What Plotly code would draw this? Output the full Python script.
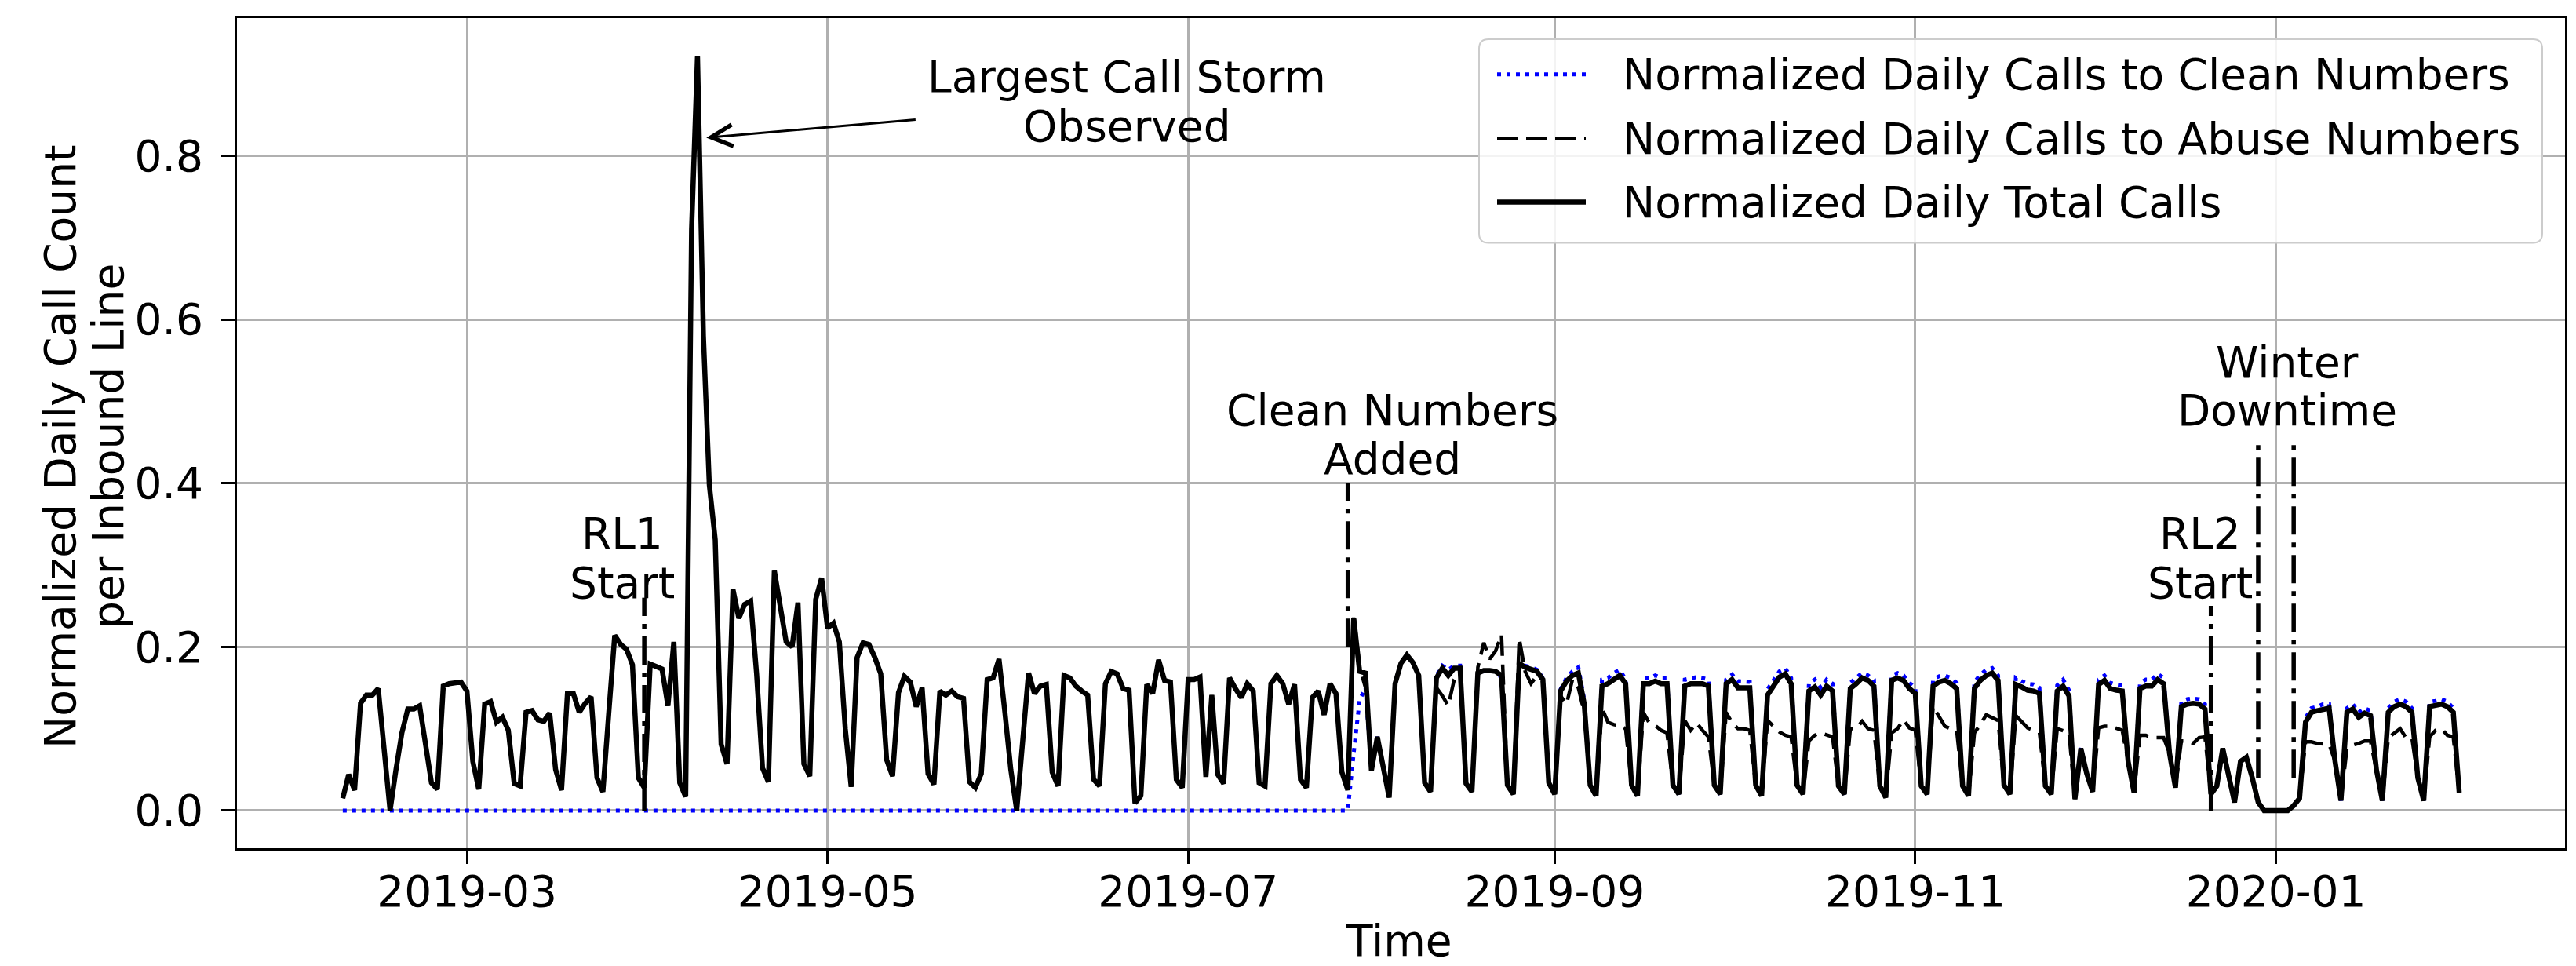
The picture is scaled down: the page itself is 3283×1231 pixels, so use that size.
import pandas as pd
import plotly.graph_objects as go

# ---------------- data ----------------
start_date = "2019-02-08"

total_calls = [
    0.015, 0.044, 0.025, 0.131, 0.141, 0.141, 0.149,
    0.075, 0.0, 0.05, 0.095, 0.124, 0.124, 0.128,
    0.08, 0.034, 0.026, 0.152, 0.155, 0.156, 0.157,
    0.146, 0.06, 0.026, 0.13, 0.133, 0.108, 0.114,
    0.098, 0.033, 0.03, 0.12, 0.122, 0.111, 0.109,
    0.119, 0.05, 0.025, 0.143, 0.143, 0.12, 0.131,
    0.139, 0.04, 0.023, 0.12, 0.214, 0.203, 0.197,
    0.178, 0.04, 0.028, 0.179, 0.176, 0.173, 0.128,
    0.206, 0.034, 0.017, 0.71, 0.922, 0.58, 0.398,
    0.331, 0.081, 0.057, 0.27, 0.235, 0.252, 0.256,
    0.167, 0.052, 0.035, 0.293, 0.252, 0.206, 0.2,
    0.254, 0.057, 0.042, 0.258, 0.284, 0.223, 0.229,
    0.206, 0.1, 0.029, 0.187, 0.205, 0.203, 0.187,
    0.167, 0.062, 0.042, 0.144, 0.164, 0.157, 0.127,
    0.15, 0.045, 0.032, 0.146, 0.141, 0.146, 0.139,
    0.137, 0.035, 0.028, 0.045, 0.16, 0.162, 0.185,
    0.12, 0.05, 0.0, 0.084, 0.168, 0.143, 0.152,
    0.154, 0.047, 0.03, 0.165, 0.162, 0.152, 0.146,
    0.141, 0.038, 0.03, 0.155, 0.17, 0.167, 0.149,
    0.147, 0.009, 0.018, 0.154, 0.143, 0.184, 0.159,
    0.157, 0.038, 0.028, 0.16, 0.16, 0.163, 0.041,
    0.141, 0.044, 0.033, 0.162, 0.149, 0.138, 0.155,
    0.146, 0.034, 0.03, 0.155, 0.165, 0.155, 0.13,
    0.154, 0.038, 0.028, 0.138, 0.146, 0.117, 0.155,
    0.143, 0.047, 0.025, 0.235, 0.17, 0.168, 0.049,
    0.09, 0.05, 0.016, 0.155, 0.18, 0.19, 0.181,
    0.165, 0.034, 0.023, 0.162, 0.174, 0.165, 0.174,
    0.174, 0.033, 0.023, 0.168, 0.171, 0.171, 0.17,
    0.165, 0.031, 0.02, 0.18, 0.175, 0.172, 0.17,
    0.16, 0.034, 0.02, 0.146, 0.158, 0.165, 0.168,
    0.13, 0.031, 0.018, 0.152, 0.155, 0.16, 0.165,
    0.155, 0.031, 0.018, 0.155, 0.155, 0.158, 0.155,
    0.155, 0.031, 0.02, 0.152, 0.155, 0.155, 0.155,
    0.152, 0.031, 0.02, 0.155, 0.16, 0.15, 0.15,
    0.15, 0.031, 0.018, 0.141, 0.152, 0.163, 0.167,
    0.155, 0.031, 0.02, 0.146, 0.151, 0.141, 0.152,
    0.146, 0.03, 0.02, 0.149, 0.155, 0.162, 0.159,
    0.152, 0.03, 0.016, 0.159, 0.162, 0.159, 0.149,
    0.143, 0.03, 0.02, 0.152, 0.157, 0.159, 0.155,
    0.149, 0.03, 0.018, 0.149, 0.159, 0.165, 0.168,
    0.159, 0.031, 0.02, 0.154, 0.151, 0.147, 0.146,
    0.143, 0.03, 0.02, 0.146, 0.152, 0.14, 0.014,
    0.076, 0.045, 0.023, 0.154, 0.159, 0.149, 0.147,
    0.146, 0.06, 0.022, 0.149, 0.152, 0.152, 0.16,
    0.155, 0.07, 0.028, 0.127, 0.13, 0.131, 0.13,
    0.124, 0.02, 0.03, 0.076, 0.04, 0.01, 0.06,
    0.065, 0.04, 0.01, 0.0, 0.0, 0.0, 0.0,
    0.0, 0.006, 0.015, 0.108, 0.12, 0.122, 0.124,
    0.125, 0.06, 0.012, 0.12, 0.124, 0.114, 0.119,
    0.116, 0.05, 0.012, 0.12, 0.127, 0.13, 0.127,
    0.12, 0.04, 0.012, 0.127, 0.128, 0.13, 0.127,
    0.12, 0.022,
]

abuse_calls = [
    0.015, 0.044, 0.025, 0.131, 0.141, 0.141, 0.149,
    0.075, 0.0, 0.05, 0.095, 0.124, 0.124, 0.128,
    0.08, 0.034, 0.026, 0.152, 0.155, 0.156, 0.157,
    0.146, 0.06, 0.026, 0.13, 0.133, 0.108, 0.114,
    0.098, 0.033, 0.03, 0.12, 0.122, 0.111, 0.109,
    0.119, 0.05, 0.025, 0.143, 0.143, 0.12, 0.131,
    0.139, 0.04, 0.023, 0.12, 0.214, 0.203, 0.197,
    0.178, 0.04, 0.028, 0.179, 0.176, 0.173, 0.128,
    0.206, 0.034, 0.017, 0.71, 0.922, 0.58, 0.398,
    0.331, 0.081, 0.057, 0.27, 0.235, 0.252, 0.256,
    0.167, 0.052, 0.035, 0.293, 0.252, 0.206, 0.2,
    0.254, 0.057, 0.042, 0.258, 0.284, 0.223, 0.229,
    0.206, 0.1, 0.029, 0.187, 0.205, 0.203, 0.187,
    0.167, 0.062, 0.042, 0.144, 0.164, 0.157, 0.127,
    0.15, 0.045, 0.032, 0.146, 0.141, 0.146, 0.139,
    0.137, 0.035, 0.028, 0.045, 0.16, 0.162, 0.185,
    0.12, 0.05, 0.0, 0.084, 0.168, 0.143, 0.152,
    0.154, 0.047, 0.03, 0.165, 0.162, 0.152, 0.146,
    0.141, 0.038, 0.03, 0.155, 0.17, 0.167, 0.149,
    0.147, 0.009, 0.018, 0.154, 0.143, 0.184, 0.159,
    0.157, 0.038, 0.028, 0.16, 0.16, 0.163, 0.041,
    0.141, 0.044, 0.033, 0.162, 0.149, 0.138, 0.155,
    0.146, 0.034, 0.03, 0.155, 0.165, 0.155, 0.13,
    0.154, 0.038, 0.028, 0.138, 0.146, 0.117, 0.155,
    0.143, 0.047, 0.025, 0.24, 0.175, 0.15, 0.049,
    0.09, 0.05, 0.016, 0.155, 0.18, 0.19, 0.181,
    0.165, 0.034, 0.023, 0.15, 0.14, 0.128, 0.16,
    0.17, 0.033, 0.023, 0.175, 0.205, 0.185, 0.195,
    0.215, 0.031, 0.02, 0.21, 0.17, 0.155, 0.165,
    0.16, 0.034, 0.02, 0.14, 0.13, 0.16, 0.15,
    0.12, 0.031, 0.018, 0.125, 0.108, 0.105, 0.104,
    0.1, 0.031, 0.018, 0.12, 0.107, 0.104, 0.098,
    0.095, 0.031, 0.02, 0.11, 0.098, 0.107, 0.098,
    0.09, 0.031, 0.02, 0.12, 0.107, 0.1, 0.1,
    0.098, 0.031, 0.018, 0.11, 0.103, 0.096, 0.092,
    0.09, 0.031, 0.02, 0.085, 0.092, 0.095, 0.092,
    0.09, 0.03, 0.02, 0.1, 0.1, 0.109, 0.1,
    0.098, 0.03, 0.016, 0.095, 0.1, 0.111, 0.101,
    0.098, 0.03, 0.02, 0.127, 0.114, 0.103, 0.1,
    0.098, 0.03, 0.018, 0.095, 0.105, 0.117, 0.114,
    0.11, 0.031, 0.02, 0.116, 0.108, 0.101, 0.098,
    0.095, 0.03, 0.02, 0.1, 0.098, 0.095, 0.014,
    0.07, 0.045, 0.023, 0.101, 0.103, 0.103, 0.1,
    0.098, 0.06, 0.022, 0.092, 0.092, 0.089, 0.089,
    0.089, 0.07, 0.028, 0.085, 0.085, 0.082, 0.089,
    0.09, 0.02, 0.03, 0.076, 0.04, 0.01, 0.06,
    0.065, 0.04, 0.01, 0.0, 0.0, 0.0, 0.0,
    0.0, 0.006, 0.015, 0.084, 0.084, 0.082, 0.081,
    0.081, 0.06, 0.012, 0.076, 0.08, 0.082, 0.085,
    0.085, 0.05, 0.012, 0.089, 0.095, 0.1, 0.089,
    0.089, 0.04, 0.012, 0.09, 0.098, 0.1, 0.092,
    0.09, 0.022,
]

clean_before_added = [0.0] * 171   # no clean numbers before 2019-07-28
clean_after_added = [
    0.07, 0.135, 0.15, 0.049,
    0.09, 0.05, 0.016, 0.155, 0.18, 0.19, 0.181,
    0.165, 0.034, 0.023, 0.165, 0.177, 0.172, 0.177,
    0.177, 0.033, 0.023, 0.168, 0.17, 0.172, 0.17,
    0.162, 0.031, 0.02, 0.175, 0.177, 0.175, 0.172,
    0.162, 0.034, 0.02, 0.148, 0.162, 0.17, 0.175,
    0.135, 0.031, 0.018, 0.16, 0.162, 0.168, 0.172,
    0.16, 0.031, 0.018, 0.162, 0.162, 0.165, 0.162,
    0.162, 0.031, 0.02, 0.16, 0.162, 0.163, 0.162,
    0.16, 0.031, 0.02, 0.16, 0.166, 0.158, 0.157,
    0.157, 0.031, 0.018, 0.148, 0.16, 0.17, 0.174,
    0.162, 0.031, 0.02, 0.155, 0.16, 0.15, 0.16,
    0.155, 0.03, 0.02, 0.156, 0.162, 0.168, 0.165,
    0.16, 0.03, 0.016, 0.165, 0.168, 0.165, 0.156,
    0.15, 0.03, 0.02, 0.16, 0.164, 0.165, 0.162,
    0.156, 0.03, 0.018, 0.157, 0.166, 0.172, 0.174,
    0.165, 0.031, 0.02, 0.162, 0.158, 0.155, 0.154,
    0.15, 0.03, 0.02, 0.153, 0.16, 0.147, 0.014,
    0.078, 0.045, 0.023, 0.16, 0.165, 0.156, 0.154,
    0.153, 0.06, 0.022, 0.156, 0.16, 0.16, 0.167,
    0.162, 0.07, 0.028, 0.133, 0.136, 0.137, 0.136,
    0.13, 0.02, 0.03, 0.076, 0.04, 0.01, 0.06,
    0.065, 0.04, 0.01, 0.0, 0.0, 0.0, 0.0,
    0.0, 0.006, 0.015, 0.113, 0.125, 0.127, 0.13,
    0.13, 0.06, 0.012, 0.125, 0.13, 0.12, 0.125,
    0.122, 0.05, 0.012, 0.125, 0.133, 0.136, 0.133,
    0.125, 0.04, 0.012, 0.133, 0.134, 0.136, 0.133,
    0.125, 0.022,
]
clean_calls = clean_before_added + clean_after_added

dates = pd.date_range(start_date, periods=len(total_calls), freq="D")

series_names = [
    "Normalized Daily Calls to Clean Numbers",
    "Normalized Daily Calls to Abuse Numbers",
    "Normalized Daily Total Calls",
]

# event markers: (date, y_low, y_high)
event_dates = ["2019-03-31", "2019-07-28", "2019-12-21", "2019-12-29", "2020-01-04"]
event_ylow = [0.0, 0.2, 0.0, 0.04, 0.04]
event_yhigh = [0.26, 0.40, 0.25, 0.45, 0.45]

y_ticks = [0.0, 0.2, 0.4, 0.6, 0.8]

# ---------------- figure ----------------
W, H = 3283, 1231
L, R, T, B = 294, 22, 13, 158
FONT = "DejaVu Sans"
FS = 55

clean_style = dict(color="#0000ff", width=5, dash="5px,7px")
abuse_style = dict(color="black", width=4.5, dash="26px,11px")
total_style = dict(color="black", width=6.5)

fig = go.Figure()
fig.add_trace(go.Scatter(x=dates, y=clean_calls, mode="lines", name=series_names[0],
                         line=clean_style))
fig.add_trace(go.Scatter(x=dates, y=abuse_calls, mode="lines", name=series_names[1],
                         line=abuse_style))
fig.add_trace(go.Scatter(x=dates, y=total_calls, mode="lines", name=series_names[2],
                         line=total_style))

shapes = []
dashdot = "36px,10px,6px,10px"
for d, lo, hi in zip(event_dates, event_ylow, event_yhigh):
    shapes.append(dict(type="line", xref="x", yref="y", x0=d, x1=d, y0=lo, y1=hi,
                       line=dict(color="black", width=5.5, dash=dashdot), layer="above"))

# custom legend (box + samples)
pw, ph = W - L - R, H - T - B
def px2paper(px, py):
    return (px - L) / pw, (H - B - py) / ph

bx0, by1 = px2paper(1877, 40)
bx1, by0 = px2paper(3232, 300)
rx, ry = 12 / pw, 12 / ph
path = (f"M{bx0+rx},{by1} L{bx1-rx},{by1} Q{bx1},{by1} {bx1},{by1-ry} "
        f"L{bx1},{by0+ry} Q{bx1},{by0} {bx1-rx},{by0} L{bx0+rx},{by0} "
        f"Q{bx0},{by0} {bx0},{by0+ry} L{bx0},{by1-ry} Q{bx0},{by1} {bx0+rx},{by1} Z")
shapes.append(dict(type="path", xref="paper", yref="paper", path=path,
                   fillcolor="rgba(255,255,255,0.85)", line=dict(color="#cccccc", width=2),
                   layer="above"))

legend_rows_py = [85, 167, 248]
legend_styles = [clean_style, abuse_style, total_style]
annotations = []
for name, py, st in zip(series_names, legend_rows_py, legend_styles):
    lx0, ly = px2paper(1900, py)
    lx1, _ = px2paper(2013, py)
    shapes.append(dict(type="line", xref="paper", yref="paper", x0=lx0, x1=lx1, y0=ly, y1=ly,
                       line=st, layer="above"))
    tx, _ = px2paper(2058, py)
    annotations.append(dict(xref="paper", yref="paper", x=tx, y=ly, text=name, showarrow=False,
                            xanchor="left", yanchor="middle", font=dict(size=FS, color="black")))

def label(x, y, text):
    annotations.append(dict(xref="x", yref="y", x=x, y=y, text=text, showarrow=False,
                            xanchor="center", yanchor="middle", font=dict(size=FS, color="black")))

label("2019-06-20 16:00", 0.896, "Largest Call Storm")
label("2019-06-20 16:00", 0.836, "Observed")
label("2019-03-27 07:00", 0.338, "RL1")
label("2019-03-27 07:00", 0.278, "Start")
label("2019-08-04 12:00", 0.489, "Clean Numbers")
label("2019-08-04 12:00", 0.429, "Added")
label("2020-01-02 22:00", 0.547, "Winter")
label("2020-01-02 22:00", 0.489, "Downtime")
label("2019-12-19 05:00", 0.338, "RL2")
label("2019-12-19 05:00", 0.278, "Start")

# arrow to largest call storm
annotations.append(dict(xref="x", yref="y", x="2019-04-10 12:00", y=0.822,
                        axref="x", ayref="y", ax="2019-05-16 02:00", ay=0.844,
                        text="", showarrow=True, arrowhead=5, arrowsize=1.8,
                        arrowwidth=3, arrowcolor="black"))

# axis titles as annotations
annotations.append(dict(xref="paper", yref="paper", x=px2paper(1775, 0)[0], y=px2paper(0, 1191)[1],
                        text="Time", showarrow=False, xanchor="center", yanchor="middle",
                        font=dict(size=FS, color="black")))
annotations.append(dict(xref="paper", yref="paper", x=px2paper(69, 0)[0], y=px2paper(0, 560)[1],
                        text="Normalized Daily Call Count", showarrow=False, textangle=-90,
                        xanchor="center", yanchor="middle", font=dict(size=FS, color="black")))
annotations.append(dict(xref="paper", yref="paper", x=px2paper(130, 0)[0], y=px2paper(0, 560)[1],
                        text="per Inbound Line", showarrow=False, textangle=-90,
                        xanchor="center", yanchor="middle", font=dict(size=FS, color="black")))

fig.update_layout(
    width=W, height=H,
    margin=dict(l=L, r=R, t=T, b=B),
    paper_bgcolor="white", plot_bgcolor="white",
    font=dict(family=FONT, size=FS, color="black"),
    showlegend=False,
    shapes=shapes,
    annotations=annotations,
)
fig.update_xaxes(
    range=["2019-01-21 02:24", "2020-02-18 21:36"],
    tick0="2019-03-01", dtick="M2", tickformat="%Y-%m",
    showgrid=True, gridcolor="#b0b0b0", gridwidth=2.5,
    showline=True, linecolor="black", linewidth=3, mirror=True,
    ticks="outside", ticklen=17, tickwidth=2.5, tickcolor="black",
    ticklabelstandoff=-12, zeroline=False,
    tickfont=dict(size=FS, family=FONT, color="black"),
)
fig.update_yaxes(
    range=[-0.0461, 0.9681],
    tickvals=y_ticks, tickformat=".1f",
    showgrid=True, gridcolor="#b0b0b0", gridwidth=2.5,
    showline=True, linecolor="black", linewidth=3, mirror=True,
    ticks="outside", ticklen=17, tickwidth=2.5, tickcolor="black",
    ticklabelstandoff=12, zeroline=False,
    tickfont=dict(size=FS, family=FONT, color="black"),
)

fig.write_html("out.html")
